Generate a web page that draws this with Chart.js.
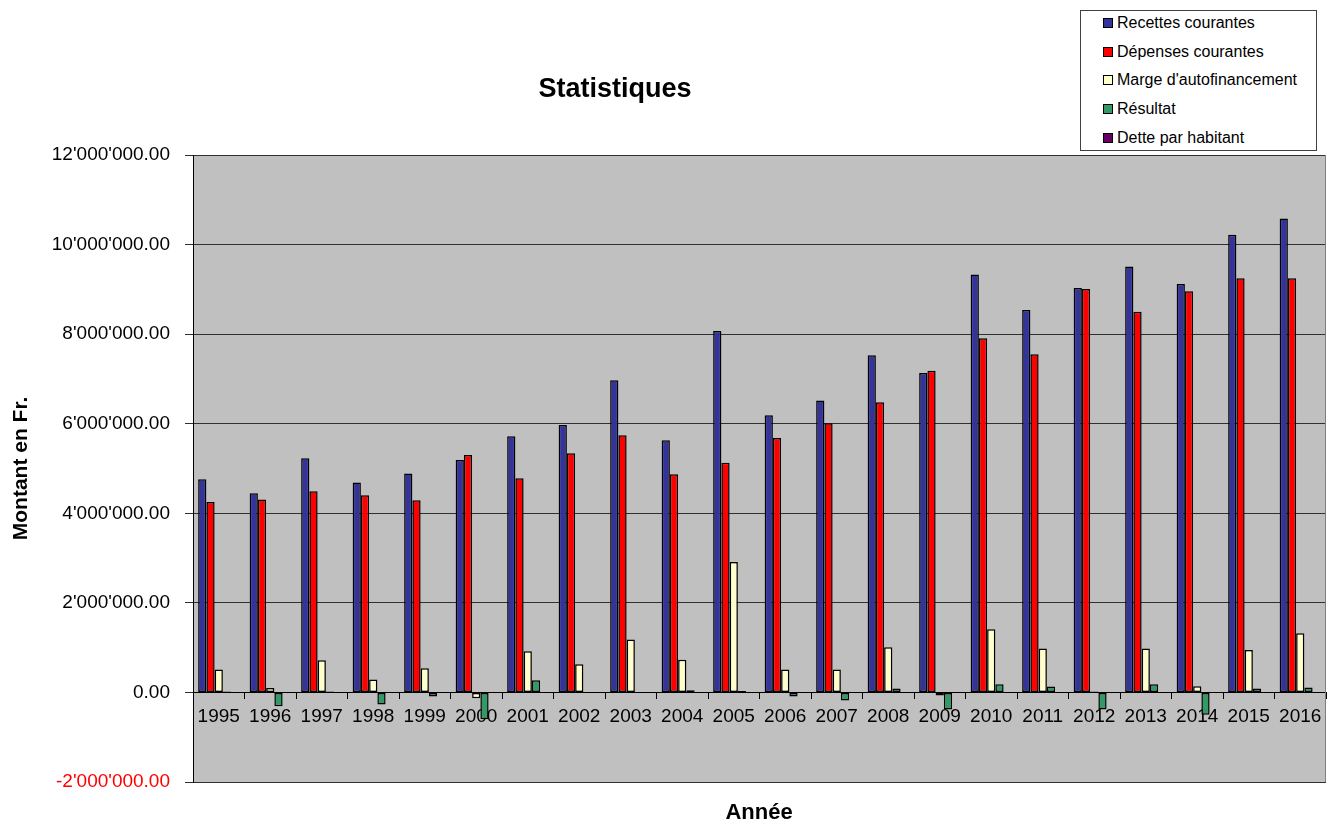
<!DOCTYPE html>
<html>
<head>
<meta charset="utf-8">
<script src="https://cdn.jsdelivr.net/npm/chart.js@4/dist/chart.umd.min.js"></script>
<style>
    body { margin: 0; background: #fff; font-family: "Liberation Sans", Arial, sans-serif; }
    #wrap { position: relative; width: 1341px; height: 826px; }
    #titre { position: absolute; left: 415px; width: 400px; top: 70px; text-align: center; font-weight: bold; font-size: 27px; line-height: 36px; }
    #annee { position: absolute; left: 659px; width: 200px; top: 798px; text-align: center; font-weight: bold; font-size: 22px; line-height: 28px; }
    #legende { position: absolute; left: 1080px; top: 10px; width: 235px; height: 139px; border: 1px solid #404040; background: #fff; }
    .item { position: absolute; left: 22px; height: 20px; line-height: 20px; font-size: 16px; white-space: nowrap; }
    .item span.box { display: inline-block; width: 8px; height: 8px; border: 1px solid #000; margin-right: 4px; vertical-align: 0px; }
</style>
</head>
<body>
<div id="wrap">
    <canvas id="c" width="1341" height="826"></canvas>
    <div id="titre">Statistiques</div>
    <div id="annee">Année</div>
    <div id="legende"></div>
</div>
<script>
// data (Fr.)
const years = ["1995","1996","1997","1998","1999","2000","2001","2002","2003","2004","2005","2006","2007","2008","2009","2010","2011","2012","2013","2014","2015","2016"];
const recettes = [4760000,4450000,5230000,4690000,4890000,5190000,5720000,5970000,6970000,5630000,8070000,6190000,6520000,7530000,7130000,9330000,8540000,9030000,9510000,9120000,10220000,10580000];
const depenses = [4250000,4310000,4490000,4400000,4290000,5300000,4780000,5340000,5740000,4870000,5130000,5680000,6010000,6480000,7180000,7910000,7550000,9010000,8500000,8960000,9250000,9250000];
const marge = [510000,100000,720000,290000,540000,-130000,920000,630000,1180000,730000,2910000,510000,510000,1010000,-70000,1410000,980000,20000,980000,140000,950000,1320000];
const resultat = [20000,-310000,20000,-270000,-90000,-600000,270000,10000,10000,50000,30000,-90000,-180000,90000,-380000,180000,130000,-380000,180000,-500000,90000,110000];
const dette = [6000,6000,5000,5000,5000,5000,5000,5000,5000,4000,4000,4000,4000,4000,4000,4000,4000,4000,4000,4000,4000,4000];

const seriesNames = ["Recettes courantes","Dépenses courantes","Marge d'autofinancement","Résultat","Dette par habitant"];
const seriesColors = ["#333399","#ff0000","#ffffcc","#339966","#660066"];
const seriesData = [recettes, depenses, marge, resultat, dette];

const yMin = -2000000, yMax = 12000000, yStep = 2000000;

// 12'000'000.00
const fmt = (v)=>{
    const [int, dec] = Math.abs(v).toFixed(2).split('.');
    return (v < 0 ? '-' : '') + int.replace(/\B(?=(\d{3})+(?!\d))/g, "'") + '.' + dec;
};

// html legend
const leg = document.getElementById('legende');
seriesNames.forEach((name,i)=>{
    const d = document.createElement('div');
    d.className = 'item';
    d.style.top = (2 + i*28.7) + 'px';
    d.innerHTML = `<span class="box" style="background:${seriesColors[i]}"></span>${name}`;
    leg.appendChild(d);
});

const plotBg = {
    id : 'plotBg',
    beforeDraw(chart){
        const {ctx, chartArea:a} = chart;
        ctx.save();
        ctx.fillStyle = '#c0c0c0';
        ctx.fillRect(a.left, a.top, a.right-a.left, a.bottom-a.top);
        ctx.restore();
    },
    afterDraw(chart){
        const {ctx, chartArea:a} = chart;
        ctx.save();
        ctx.strokeStyle = '#808080';
        ctx.lineWidth = 1;
        ctx.beginPath();
        ctx.moveTo(Math.round(a.right)-0.5, a.top);
        ctx.lineTo(Math.round(a.right)-0.5, a.bottom);
        ctx.stroke();
        ctx.restore();
    }
};

const data = {
    labels : years,
    datasets : seriesNames.map((name,i)=>({
        label : name,
        data : seriesData[i],
        backgroundColor : seriesColors[i],
        borderColor : '#000',
        borderWidth : 1.5,
        borderSkipped : false,
        categoryPercentage : 0.8,
        barPercentage : 1.0
    }))
};

const config = {
    type : 'bar',
    data,
    plugins : [plotBg],
    options : {
        responsive : false,
        animation : false,
        layout : { padding : { left:0, right:15, top:155, bottom:44 } },
        plugins : {
            legend : { display:false },
            tooltip : { enabled:false },
            title : { display:false }
        },
        scales : {
            x : {
                position : { y: 0 },
                afterFit : (s)=>{ s.height = 0; },
                grid : { drawOnChartArea:false, drawTicks:true, tickLength:6, color:'#000', offset:true },
                border : { color:'#000', width:1 },
                ticks : {
                    autoSkip:false, maxRotation:0, minRotation:0, padding:7, color:'#000',
                    font : { family:'"Liberation Sans", Arial', size:19 }
                }
            },
            y : {
                min : yMin, max : yMax,
                afterFit : (s)=>{ s.width = 193; },
                grid : { color:'#303030', tickLength:8, lineWidth:1 },
                border : { color:'#000', width:1 },
                ticks : {
                    stepSize : yStep,
                    padding : 15,
                    callback : (v)=>fmt(v),
                    color : (c)=> c.tick && c.tick.value < 0 ? '#ff0000' : '#000',
                    font : { family:'"Liberation Sans", Arial', size:19 }
                },
                title : {
                    display : true,
                    text : 'Montant en Fr.',
                    color : '#000',
                    padding : { top:9, bottom:0 },
                    font : { family:'"Liberation Sans", Arial', size:21, weight:'bold' }
                }
            }
        }
    }
};

const chart = new Chart(document.getElementById('c').getContext('2d'), config);
</script>
</body>
</html>
